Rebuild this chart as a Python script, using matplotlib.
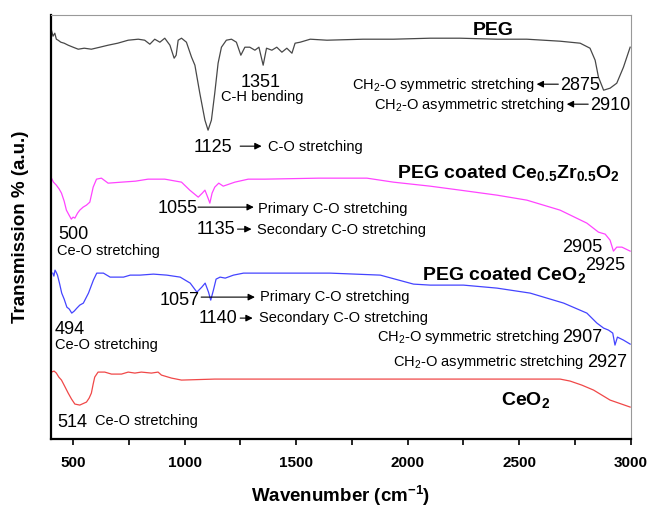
import numpy as np
import matplotlib
matplotlib.use('Agg')
import matplotlib.pyplot as plt

plt.rcParams['font.family'] = ['Liberation Sans', 'DejaVu Sans']
plt.rcParams['mathtext.fontset'] = 'custom'
plt.rcParams['mathtext.rm'] = 'Liberation Sans'
plt.rcParams['mathtext.it'] = 'Liberation Sans:italic'
plt.rcParams['mathtext.bf'] = 'Liberation Sans:bold'

# ---- data (wavenumber, offset transmission in arbitrary units) ----
peg_wn = [403, 410, 418, 425, 433, 445, 460, 478, 500, 523, 550, 582, 620, 657, 700, 747,
          792, 821, 844, 866, 889, 911, 934, 953, 962, 971, 986, 1008, 1031, 1046, 1068,
          1091, 1105, 1120, 1135, 1150, 1165, 1187, 1210, 1232, 1252, 1270, 1292, 1315,
          1333, 1352, 1367, 1391, 1413, 1436, 1458, 1481, 1495, 1518, 1563, 1638, 1800,
          1936, 2100, 2235, 2400, 2534, 2683, 2773, 2817, 2840, 2855, 2878, 2907, 2937,
          2967, 2997]
peg_tr = [409, 403, 406, 400, 399, 397, 396, 394, 392, 390, 391, 390, 392, 394, 396, 399,
          400, 399, 395, 400, 397, 401, 394, 381, 384, 399, 401, 397, 382, 374, 346,
          319, 309, 319, 346, 376, 392, 399, 400, 397, 384, 392, 392, 389,
          392, 374, 391, 389, 392, 387, 391, 386, 396, 397, 400, 399, 400,
          400, 401, 401, 400, 400, 398, 396, 391, 379, 362, 349, 351, 356,
          372, 392]

czo_wn = [403, 412, 425, 438, 448, 460, 470, 482, 492, 500, 508, 520, 530, 545, 560, 575,
          590, 605, 627, 657, 717, 780, 836, 911, 986, 1023, 1061, 1079, 1091, 1105, 1113,
          1123, 1135, 1153, 1173, 1225, 1285, 1360, 1600, 1817, 1936, 2100, 2235, 2400,
          2534, 2683, 2803, 2855, 2885, 2907, 2922, 2937, 2960, 2997]
czo_tr = [261, 257, 254, 250, 246, 238, 229, 224, 220, 222, 221, 226, 229, 232, 234, 237,
          252, 260, 261, 256, 257, 258, 260, 260, 257, 249, 242, 246, 249, 241, 236,
          246, 252, 256, 253, 257, 260, 260, 261, 261, 257, 253, 249, 244,
          239, 229, 216, 207, 205, 199, 188, 192, 192, 188]

ceo_peg_wn = [409, 414, 419, 424, 430, 440, 449, 460, 472, 483, 494, 505, 517, 530, 546, 569,
              591, 606, 636, 666, 726, 756, 800, 860, 920, 980, 1025, 1055, 1077, 1092, 1107,
              1117, 1129, 1141, 1159, 1182, 1219, 1264, 1450, 1652, 1877, 2026, 2101, 2250,
              2400, 2549, 2699, 2803, 2848, 2878, 2900, 2919, 2929, 2940, 2967, 2997]
ceo_peg_tr = [166, 163, 169, 167, 164, 155, 146, 140, 132, 130, 126, 128, 131, 134, 136, 146,
              159, 166, 166, 162, 162, 164, 164, 165, 164, 162, 156, 147, 152, 156, 147,
              139, 149, 160, 162, 161, 164, 166, 166, 166, 164, 155, 154, 154,
              151, 146, 136, 126, 116, 111, 109, 106, 94, 102, 99, 95]

ceo_wn = [403, 415, 425, 436, 448, 462, 478, 493, 508, 530, 560, 572, 582, 590, 597, 612,
          642, 672, 717, 747, 777, 806, 851, 881, 896, 941, 986, 1135, 1374, 1800, 2300,
          2683, 2728, 2780, 2833, 2907, 2997]
ceo_tr = [67, 68, 66, 62, 59, 53, 46, 40, 35, 34, 37, 41, 46, 55, 62, 67,
          67, 65, 65, 67, 66, 67, 66, 67, 64, 61, 59, 60, 60, 60, 60,
          60, 58, 54, 49, 39, 32]

xticks_major = [500, 1000, 1500, 2000, 2500, 3000]
xticks_minor = [750, 1250, 1750, 2250, 2750]

fig = plt.figure(figsize=(6.51, 5.07), dpi=100)
ax = fig.add_axes([0.078, 0.134, 0.891, 0.836])

ax.plot(peg_wn, peg_tr, color='#484848', lw=0.9)
ax.plot(czo_wn, czo_tr, color='#ff44ff', lw=0.9)
ax.plot(ceo_peg_wn, ceo_peg_tr, color='#4444ff', lw=0.9)
ax.plot(ceo_wn, ceo_tr, color='#f04848', lw=0.9)

ax.set_xlim(400, 3000)
ax.set_ylim(0, 424)
ax.set_yticks([])
ax.set_xticks(xticks_major)
ax.set_xticks(xticks_minor, minor=True)
ax.tick_params(axis='x', which='both', direction='out', length=4, width=1.2, pad=8)
for t in ax.get_xticklabels():
    t.set_fontweight('bold')
    t.set_fontsize(11)

for side in ['left', 'bottom']:
    ax.spines[side].set_linewidth(1.6)
    ax.spines[side].set_color('black')
for side in ['top', 'right']:
    ax.spines[side].set_linewidth(0.8)
    ax.spines[side].set_color('#999999')

ax.set_xlabel('Wavenumber (cm$^\\mathbf{-1}$)', fontsize=13.5, fontweight='bold', labelpad=10)
ax.set_ylabel('Transmission % (a.u.)', fontsize=13.5, fontweight='bold', labelpad=16)

num = 13
lab = 10.5
big = 14
arr = dict(arrowstyle='-|>', color='black', lw=0.8, mutation_scale=10, shrinkA=0, shrinkB=0)

# PEG
ax.text(2383, 409, 'PEG', fontsize=big, fontweight='bold', ha='center', va='center')
ax.text(1340, 357, '1351', fontsize=num, ha='center', va='center')
ax.text(1347, 342, 'C-H bending', fontsize=lab, ha='center', va='center')
ax.text(1128, 292, '1125', fontsize=num, ha='center', va='center')
ax.annotate('', xy=(1345, 293), xytext=(1249, 293), arrowprops=arr)
ax.text(1374, 292, 'C-O stretching', fontsize=lab, ha='left', va='center')
ax.text(2572, 354, 'CH$_2$-O symmetric stretching', fontsize=lab, ha='right', va='center')
ax.annotate('', xy=(2578, 355), xytext=(2675, 355), arrowprops=arr)
ax.text(2684, 354, '2875', fontsize=num, ha='left', va='center')
ax.text(2706, 334, 'CH$_2$-O asymmetric stretching', fontsize=lab, ha='right', va='center')
ax.annotate('', xy=(2713, 335), xytext=(2809, 335), arrowprops=arr)
ax.text(2818, 334, '2910', fontsize=num, ha='left', va='center')

# PEG coated Ce0.5Zr0.5O2
ax.text(1953, 266, 'PEG coated Ce$_\\mathbf{0.5}$Zr$_\\mathbf{0.5}$O$_\\mathbf{2}$',
        fontsize=big, fontweight='bold', ha='left', va='center')
ax.text(1058, 231, '1055', fontsize=num, ha='right', va='center')
ax.annotate('', xy=(1310, 232), xytext=(1060, 232), arrowprops=arr)
ax.text(1330, 230, 'Primary C-O stretching', fontsize=lab, ha='left', va='center')
ax.text(1228, 210, '1135', fontsize=num, ha='right', va='center')
ax.annotate('', xy=(1300, 210), xytext=(1237, 210), arrowprops=arr)
ax.text(1325, 209, 'Secondary C-O stretching', fontsize=lab, ha='left', va='center')
ax.text(433, 205, '500', fontsize=num, ha='left', va='center')
ax.text(428, 188, 'Ce-O stretching', fontsize=lab, ha='left', va='center')
ax.text(2692, 192, '2905', fontsize=num, ha='left', va='center')
ax.text(2795, 174, '2925', fontsize=num, ha='left', va='center')

# PEG coated CeO2
ax.text(2065, 164, 'PEG coated CeO$_\\mathbf{2}$', fontsize=big, fontweight='bold',
        ha='left', va='center')
ax.text(1067, 139, '1057', fontsize=num, ha='right', va='center')
ax.annotate('', xy=(1315, 142), xytext=(1074, 142), arrowprops=arr)
ax.text(1338, 142, 'Primary C-O stretching', fontsize=lab, ha='left', va='center')
ax.text(1237, 121, '1140', fontsize=num, ha='right', va='center')
ax.annotate('', xy=(1305, 121), xytext=(1249, 121), arrowprops=arr)
ax.text(1334, 121, 'Secondary C-O stretching', fontsize=lab, ha='left', va='center')
ax.text(419, 110, '494', fontsize=num, ha='left', va='center')
ax.text(419, 94, 'Ce-O stretching', fontsize=lab, ha='left', va='center')
ax.text(1863, 102, 'CH$_2$-O symmetric stretching', fontsize=lab, ha='left', va='center')
ax.text(2872, 102, '2907', fontsize=num, ha='right', va='center')
ax.text(1935, 77, 'CH$_2$-O asymmetric stretching', fontsize=lab, ha='left', va='center')
ax.text(2983, 77, '2927', fontsize=num, ha='right', va='center')

# CeO2
ax.text(2420, 39, 'CeO$_\\mathbf{2}$', fontsize=big, fontweight='bold', ha='left', va='center')
ax.text(428, 17, '514', fontsize=num, ha='left', va='center')
ax.text(599, 18, 'Ce-O stretching', fontsize=lab, ha='left', va='center')

fig.savefig('out.png', dpi=100)
